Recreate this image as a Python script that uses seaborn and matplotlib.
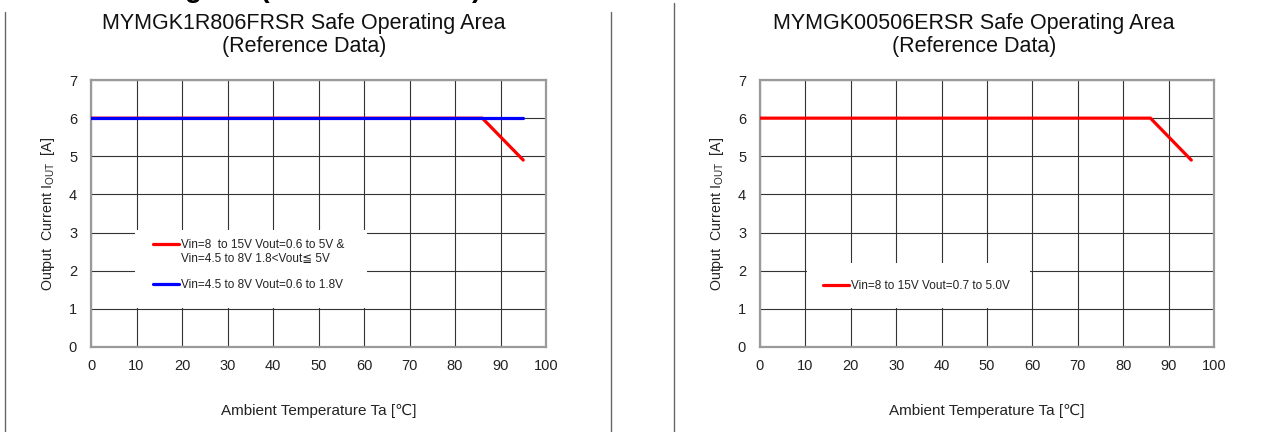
import numpy as np
import pandas as pd
import seaborn as sns
import matplotlib.pyplot as plt
from matplotlib.lines import Line2D
from matplotlib.patches import Rectangle

# values
temp_wide = [0, 86, 95]
iout_wide = [6, 6, 4.9]
temp_low = [0, 95]
iout_low = [6, 6]
temp_506 = [0, 86, 95]
iout_506 = [6, 6, 4.9]

label_wide = "Vin=8  to 15V Vout=0.6 to 5V &\nVin=4.5 to 8V 1.8<Vout\u2266 5V"
label_low = "Vin=4.5 to 8V Vout=0.6 to 1.8V"
label_506 = "Vin=8 to 15V Vout=0.7 to 5.0V"

titles = ["MYMGK1R806FRSR Safe Operating Area\n(Reference Data)",
          "MYMGK00506ERSR Safe Operating Area\n(Reference Data)"]
xticks = list(range(0, 101, 10))
yticks = list(range(0, 8))

sns.set_theme(style="white")
plt.rcParams['font.family'] = ['Liberation Sans', 'DejaVu Sans']
plt.rcParams['mathtext.fontset'] = 'custom'
plt.rcParams['mathtext.rm'] = 'Liberation Sans'
plt.rcParams['mathtext.it'] = 'Liberation Sans'

W, H = 1279, 432
fig = plt.figure(figsize=(W / 100, H / 100), dpi=100)
fig.patch.set_facecolor('white')


def px_axes(x0, x1, y0, y1):
    return fig.add_axes([x0 / W, 1 - y1 / H, (x1 - x0) / W, (y1 - y0) / H])


def style(ax):
    ax.set_xlim(0, 100)
    ax.set_ylim(0, 7)
    ax.set_xticks(xticks)
    ax.set_yticks(yticks)
    ax.grid(True, color='#333333', lw=0.8)
    ax.set_axisbelow(True)
    for s in ax.spines.values():
        s.set_color('#9a9a9a')
        s.set_linewidth(1.6)
    ax.tick_params(length=0, labelsize=10.5, colors='#222222')
    ax.tick_params(axis='x', pad=9)
    ax.tick_params(axis='y', pad=10)
    ax.set_xlabel("Ambient Temperature Ta [\u2103]", fontsize=11, color='#222222')
    ax.set_ylabel(r"Output  Current I$_{\mathrm{OUT}}$  [A]", fontsize=10.3, color='#222222')
    ax.xaxis.set_label_coords(0.5, -0.24)
    ax.xaxis.label.set_va('center')
    ax.yaxis.set_label_coords(-0.094, 0.5)
    ax.yaxis.label.set_va('center')


def legend(ax, box, anchor, shift=0):
    ax.add_patch(Rectangle((box[0], box[1]), box[2] - box[0], box[3] - box[1],
                           transform=ax.transAxes, facecolor='white',
                           edgecolor='none', zorder=1.5))
    leg = ax.legend(loc='upper left', bbox_to_anchor=anchor, frameon=False,
                    fontsize=8.5, handlelength=2.2, handletextpad=0.15,
                    labelspacing=1.25, borderpad=0, borderaxespad=0)
    for t in leg.get_texts():
        t.set_linespacing(1.2)
        t.set_color('#222222')
    if shift:
        h = leg.legend_handles[0]
        h.set_ydata(np.asarray(h.get_ydata()) + shift)
    return leg


# left chart
ax1 = px_axes(91, 546, 80, 347)
sns.lineplot(x=temp_wide, y=iout_wide, color='#ff0000', lw=2.3, sort=False,
             estimator=None, label=label_wide, ax=ax1, zorder=3)
sns.lineplot(x=temp_low, y=iout_low, color='#0000ff', lw=2.3, sort=False,
             estimator=None, label=label_low, ax=ax1, zorder=4)
style(ax1)
legend(ax1, (0.0967, 0.146, 0.607, 0.438), (0.136, 0.405), shift=5.5)

# right chart
ax2 = px_axes(760, 1214, 80, 347)
sns.lineplot(x=temp_506, y=iout_506, color='#ff0000', lw=2.3, sort=False,
             estimator=None, label=label_506, ax=ax2, zorder=3)
style(ax2)
legend(ax2, (0.1035, 0.146, 0.595, 0.315), (0.139, 0.25))

fig.text(304 / W, 1 - 35 / H, titles[0], ha='center', va='center',
         fontsize=15.5, color='#111111', linespacing=1.1)
fig.text(974 / W, 1 - 35 / H, titles[1], ha='center', va='center',
         fontsize=15.5, color='#111111', linespacing=1.1)

# heading of the page, cut off at the top edge (only descenders show)
fig.text(142 / W, 1 + 3 / H, "Diagram (Reference Data)", ha='left',
         va='baseline', fontsize=20, fontweight='bold', color='black')

# page frame lines
for x, top in [(5, 12), (611, 12), (674, 3)]:
    fig.add_artist(Line2D([x / W, x / W], [0, 1 - top / H],
                          transform=fig.transFigure, color='#666666', lw=1))

fig.savefig('out.png', dpi=100, facecolor='white')
